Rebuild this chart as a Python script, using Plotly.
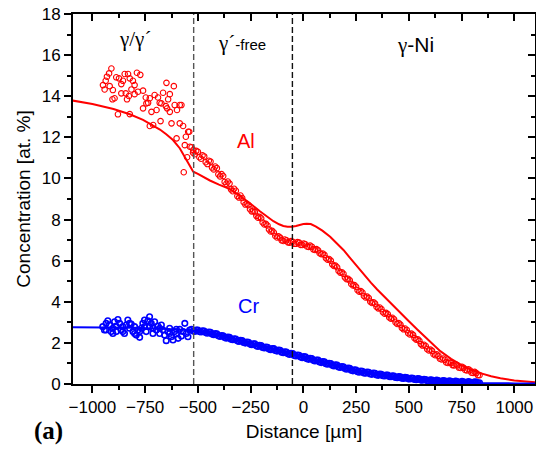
import plotly.graph_objects as go

# ---------------- data ----------------
# Al measured points: scattered region (gamma/gamma')
al_scatter_x = [-910,-921,-931,-937,-950,-942,-918,-903,-895,-905,-887,-874,-863,-855,-847,-831,-823,-815,-808,-800,
                -789,-773,-842,-863,-827,-836,-800,-784,-760,-747,-736,-728,-705,-689,-681,-665,-649,-614,-633,-641,
                -646,-633,-652,-673,-696,-720,-760,-744,-610,-586,-599,-879,-823,-728,-712,-677,-625,-586,-570,-546,
                -557,-601,-562,-538,-522,-551,-567,-578,-541]
al_scatter_y = [15.35,15.11,14.95,14.75,14.54,14.33,14.49,14.30,13.90,13.85,14.92,14.87,14.59,14.75,15.08,15.08,14.87,14.33,14.75,14.54,
                15.14,15.04,14.14,14.14,14.01,13.85,14.10,14.22,14.27,13.94,13.68,13.90,14.06,13.94,13.68,14.17,14.65,14.49,14.10,13.85,
                13.41,13.24,13.52,13.65,13.33,13.24,13.41,13.65,13.57,13.57,13.33,13.12,13.13,12.55,12.60,12.79,12.68,12.68,12.55,12.27,
                12.03,11.95,11.62,11.54,11.38,11.03,10.30,13.57,12.27]

# Dense band positions (two interleaved rows)
band_x = [-530,-515,-500,-485,-470,-455,-440,-425,-410,-395,-380,-365,-350,-335,-320,-305,-290,-275,-260,-245,
          -230,-215,-200,-185,-170,-155,-140,-125,-110,-95,-80,-65,-50,-35,-20,-5,10,25,40,55,
          70,85,100,115,130,145,160,175,190,205,220,235,250,265,280,295,310,325,340,355,
          370,385,400,415,430,445,460,475,490,505,520,535,550,565,580,595,610,625,640,655,
          670,685,700,715,730,745,760,775,790,805,820,835]
band2_x = [-523,-508,-493,-478,-463,-448,-433,-418,-403,-388,-373,-358,-343,-328,-313,-298,-283,-268,-253,-238,
           -223,-208,-193,-178,-163,-148,-133,-118,-103,-88,-73,-58,-43,-28,-13,2,17,32,47,62,
           77,92,107,122,137,152,167,182,197,212,227,242,257,272,287,302,317,332,347,362,
           377,392,407,422,437,452,467,482,497,512,527,542,557,572,587,602,617,632,647,662,
           677,692,707,722,737,752,767,782,797,812,827]

al_band_y = [11.52,11.18,11.30,10.96,11.07,10.70,10.82,10.44,10.50,10.10,10.12,9.74,9.75,9.38,9.40,9.07,9.05,8.73,8.70,8.40,
             8.36,8.09,8.06,7.76,7.71,7.42,7.37,7.13,7.12,6.96,6.99,6.88,6.92,6.82,6.88,6.76,6.80,6.67,6.68,6.52,
             6.50,6.32,6.28,6.05,6.00,5.74,5.68,5.42,5.36,5.10,5.04,4.79,4.73,4.49,4.45,4.21,4.18,3.94,3.91,3.68,
             3.65,3.42,3.40,3.18,3.15,2.92,2.89,2.66,2.63,2.41,2.39,2.16,2.10,1.87,1.85,1.63,1.61,1.40,1.37,1.19,
             1.18,1.02,1.03,0.90,0.91,0.78,0.79,0.66,0.66,0.54,0.53,0.43]
al_band2_y = [11.25,11.34,11.03,11.12,10.79,10.86,10.53,10.58,10.20,10.21,9.83,9.85,9.47,9.50,9.14,9.17,8.84,8.77,8.50,8.43,
              8.18,8.13,7.86,7.79,7.52,7.45,7.20,7.18,6.99,7.03,6.89,6.95,6.82,6.90,6.77,6.83,6.69,6.73,6.55,6.56,
              6.36,6.35,6.12,6.08,5.82,5.76,5.50,5.44,5.18,5.12,4.87,4.81,4.56,4.52,4.28,4.25,4.01,3.98,3.75,3.72,
              3.49,3.46,3.24,3.22,2.99,2.96,2.73,2.70,2.47,2.45,2.23,2.18,1.94,1.91,1.69,1.67,1.45,1.44,1.23,1.24,
              1.05,1.08,0.92,0.96,0.80,0.84,0.68,0.72,0.55,0.59,0.43]

# Cr measured points: scattered region
cr_scatter_x = [-951,-943,-935,-927,-919,-911,-903,-895,-887,-879,-871,-864,-856,-848,-840,-832,-824,-816,-808,-800,
                -792,-784,-776,-768,-761,-753,-745,-737,-729,-721,-713,-705,-697,-689,-681,-673,-665,-658,-650,-642,
                -634,-626,-618,-610,-602,-594,-586,-578,-570,-562,-555,-547,-539,
                -935,-903,-856,-824,-776,-713,-681,-634,-602,-887,-800,-753,-729]
cr_scatter_y = [2.79,2.63,2.95,3.08,2.87,2.55,2.71,3.03,2.82,3.14,2.95,2.63,2.79,2.46,2.87,3.11,2.71,2.92,2.55,2.79,
                2.38,2.63,2.27,2.71,2.95,2.79,2.55,3.08,3.27,2.95,2.71,3.03,2.63,2.82,2.46,2.87,2.63,2.38,2.11,2.55,
                2.71,2.30,2.14,2.55,2.43,2.22,2.66,2.33,2.55,2.95,2.46,2.30,2.63,
                2.63,2.46,2.55,2.95,2.55,2.46,2.71,2.46,2.66,2.55,2.46,3.11,2.79]

cr_band_y = [2.66,2.56,2.63,2.53,2.58,2.47,2.52,2.40,2.44,2.31,2.35,2.23,2.27,2.15,2.19,2.07,2.11,1.99,2.03,1.91,
             1.95,1.83,1.87,1.75,1.79,1.67,1.72,1.60,1.64,1.52,1.56,1.44,1.48,1.36,1.40,1.28,1.32,1.20,1.24,1.12,
             1.16,1.04,1.08,0.96,1.00,0.88,0.92,0.80,0.84,0.72,0.76,0.64,0.68,0.57,0.62,0.52,0.57,0.47,0.52,0.42,
             0.47,0.39,0.43,0.35,0.39,0.31,0.35,0.27,0.31,0.24,0.28,0.21,0.25,0.18,0.22,0.15,0.19,0.14,0.17,0.12,
             0.15,0.10,0.13,0.09,0.12,0.08,0.11,0.07,0.10,0.06,0.09,0.06]
cr_band2_y = [2.58,2.63,2.55,2.59,2.50,2.53,2.43,2.45,2.35,2.36,2.26,2.28,2.18,2.20,2.10,2.12,2.02,2.04,1.94,1.96,
              1.86,1.88,1.78,1.80,1.70,1.73,1.63,1.65,1.55,1.57,1.47,1.49,1.39,1.41,1.31,1.33,1.23,1.25,1.15,1.17,
              1.07,1.09,0.99,1.01,0.91,0.93,0.83,0.85,0.75,0.77,0.67,0.69,0.60,0.63,0.54,0.58,0.49,0.53,0.44,0.48,
              0.40,0.44,0.36,0.40,0.32,0.36,0.28,0.32,0.25,0.29,0.22,0.26,0.19,0.23,0.16,0.21,0.14,0.19,0.12,0.17,
              0.10,0.15,0.08,0.14,0.07,0.13,0.06,0.12,0.05,0.11,0.05]

# Model (simulated) profiles
al_model_x = [-1100,-1000,-900,-823,-760,-712,-680,-650,-618,-586,-560,-540,-522,-500,-443,-400,-348,-300,-269,-240,
              -206,-175,-142,-115,-95,-75,-55,-35,-15,0,16,35,60,90,127,160,190,220,254,290,
              320,350,380,420,459,500,540,580,615,649,700,744,790,839,890,934,1000,1050,1100]
al_model_y = [13.80,13.62,13.38,13.12,12.85,12.58,12.38,12.15,11.87,11.47,11.02,10.65,10.33,10.22,9.90,9.70,9.48,9.15,8.92,8.68,
              8.40,8.15,7.92,7.77,7.69,7.65,7.65,7.69,7.75,7.78,7.80,7.78,7.66,7.46,7.16,6.85,6.52,6.15,5.72,5.28,
              4.93,4.60,4.28,3.87,3.47,3.05,2.65,2.25,1.90,1.60,1.22,0.95,0.72,0.53,0.38,0.28,0.17,0.12,0.08]

cr_model_x = [-1100,-950,-800,-650,-530,-400,-285,-126,0,111,269,400,550,700,840,1000,1100]
cr_model_y = [2.76,2.76,2.74,2.68,2.62,2.38,2.06,1.65,1.31,1.01,0.60,0.38,0.20,0.10,0.05,0.03,0.02]

# region boundaries
boundaries_x = [-520, -52]

x_ticks = [-1000, -750, -500, -250, 0, 250, 500, 750, 1000]
y_ticks = [0, 2, 4, 6, 8, 10, 12, 14, 16, 18]

RED = "#ff0000"
BLUE = "#0000ff"

fig = go.Figure()

fig.add_trace(go.Scatter(x=al_model_x, y=al_model_y, mode="lines",
                         line=dict(color=RED, width=2), showlegend=False))
fig.add_trace(go.Scatter(x=cr_model_x, y=cr_model_y, mode="lines",
                         line=dict(color=BLUE, width=2), showlegend=False))
fig.add_trace(go.Scatter(x=al_scatter_x + band_x + band2_x, y=al_scatter_y + al_band_y + al_band2_y, mode="markers",
                         marker=dict(symbol="circle-open", size=5.5, color=RED, line=dict(width=1.1, color=RED)),
                         showlegend=False))
fig.add_trace(go.Scatter(x=cr_scatter_x + band_x + band2_x, y=cr_scatter_y + cr_band_y + cr_band2_y, mode="markers",
                         marker=dict(symbol="circle-open", size=5.5, color=BLUE, line=dict(width=1.6, color=BLUE)),
                         showlegend=False))
# dummy trace for mirrored axes
fig.add_trace(go.Scatter(x=[None], y=[None], xaxis="x2", yaxis="y2", showlegend=False, hoverinfo="skip"))

XR = [-1092, 1098]
YR = [0, 18]
tickfont = dict(family="Liberation Sans, Arial, sans-serif", size=17, color="black")

fig.update_layout(
    width=536, height=451,
    margin=dict(l=73, r=1, t=14, b=67),
    paper_bgcolor="white", plot_bgcolor="white",
    font=dict(family="Liberation Sans, Arial, sans-serif", color="black"),
    xaxis=dict(range=XR, tickvals=x_ticks, ticks="outside", ticklen=7, tickwidth=1.5, tickcolor="black",
               minor=dict(dtick=125, tick0=0, ticks="outside", ticklen=4, tickwidth=1.5, tickcolor="black"),
               showline=True, linecolor="black", linewidth=2, showgrid=False, zeroline=False,
               tickfont=tickfont,
               title=dict(text="Distance [µm]", font=dict(size=19), standoff=8)),
    yaxis=dict(range=YR, tickvals=y_ticks, ticks="outside", ticklen=7, tickwidth=1.5, tickcolor="black",
               minor=dict(dtick=1, tick0=0, ticks="outside", ticklen=4, tickwidth=1.5, tickcolor="black"),
               showline=True, linecolor="black", linewidth=2, showgrid=False, zeroline=False,
               tickfont=tickfont,
               title=dict(text="Concentration [at. %]", font=dict(size=19), standoff=6)),
    xaxis2=dict(range=XR, overlaying="x", side="top", anchor="y", tickvals=x_ticks, ticks="inside", ticklen=7,
                tickwidth=1.5, tickcolor="black", showticklabels=False,
                minor=dict(dtick=125, tick0=0, ticks="inside", ticklen=4, tickwidth=1.5, tickcolor="black"),
                showline=True, linecolor="black", linewidth=2, showgrid=False, zeroline=False),
    yaxis2=dict(range=YR, overlaying="y", side="right", anchor="x", tickvals=y_ticks, ticks="inside", ticklen=7,
                tickwidth=1.5, tickcolor="black", showticklabels=False,
                minor=dict(dtick=1, tick0=0, ticks="inside", ticklen=4, tickwidth=1.5, tickcolor="black"),
                showline=True, linecolor="black", linewidth=2, showgrid=False, zeroline=False),
)

for bx, col in zip(boundaries_x, ["#555555", "#111111"]):
    fig.add_shape(type="line", x0=bx, x1=bx, y0=0, y1=1, xref="x", yref="paper",
                  line=dict(color=col, width=1.4, dash="6px,3px"))

serif = "Liberation Serif, Times New Roman, serif"
sans = "Liberation Sans, Arial, sans-serif"
fig.add_annotation(x=-800, y=16.8, text="γ/γ´", showarrow=False, font=dict(family=serif, size=21, color="black"))
fig.add_annotation(x=-290, y=16.6,
                   text="γ´<span style='font-family:Liberation Sans;font-size:15px'>-free</span>",
                   showarrow=False, font=dict(family=serif, size=21, color="black"))
fig.add_annotation(x=530, y=16.5,
                   text="γ<span style='font-family:Liberation Sans'>-Ni</span>",
                   showarrow=False, font=dict(family=serif, size=21, color="black"))
fig.add_annotation(x=-270, y=11.8, text="Al", showarrow=False, font=dict(family=sans, size=20, color=RED))
fig.add_annotation(x=-260, y=3.8, text="Cr", showarrow=False, font=dict(family=sans, size=20, color=BLUE))
fig.add_annotation(x=-0.054, y=-0.128, xref="paper", yref="paper", xanchor="center", yanchor="middle",
                   text="<b>(a)</b>", showarrow=False,
                   font=dict(family=serif, size=25, color="black"))

fig.write_html("out.html")
